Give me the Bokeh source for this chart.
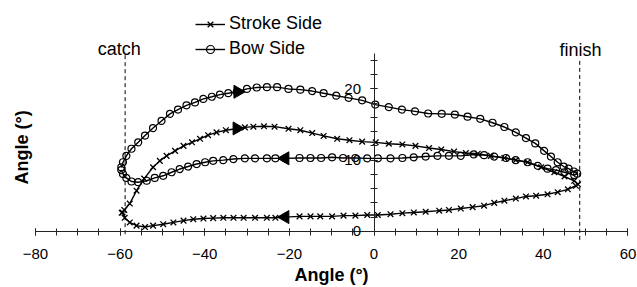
import math
from bokeh.plotting import figure
from bokeh.models import (LinearAxis, SingleIntervalTicker, Legend, LegendItem,
                          Label, Range1d)
from bokeh.core.properties import value
from bokeh.embed import file_html
from bokeh.resources import INLINE

# ---- data -------------------------------------------------------------
stroke_upper_x = [-59.6, -59.0, -57.7, -56.1, -54.3, -52.2, -50.6, -49.0, -47.0, -45.0,
                  -43.0, -41.1, -39.2, -37.2, -35.0, -32.6, -30.5, -28.5, -26.0, -23.5,
                  -20.2, -17.4, -14.6, -11.9, -8.7, -5.8, -2.8, 0.4, 3.5, 6.7, 9.8, 13.0,
                  15.9, 18.9, 21.7, 24.5, 27.6, 30.8, 33.5, 36.3, 39.5, 42.6, 45.0, 47.3, 48.2]
stroke_upper_y = [2.6, 3.0, 3.9, 5.7, 7.4, 9.0, 9.9, 10.6, 11.3, 12.0,
                  12.5, 13.0, 13.5, 13.9, 14.2, 14.4, 14.6, 14.7, 14.75, 14.7,
                  14.4, 14.2, 13.8, 13.4, 13.0, 12.8, 12.6, 12.5, 12.3, 12.2, 12.0, 11.7,
                  11.5, 11.2, 11.0, 10.9, 10.6, 10.3, 10.0, 9.7, 9.0, 8.3, 7.7, 7.1, 6.6]
stroke_lower_x = [47.7, 45.8, 43.4, 41.0, 38.3, 35.9, 33.5, 30.8, 28.4, 26.0, 23.3, 20.5,
                  17.7, 15.4, 12.2, 9.4, 6.7, 3.9, 0.9, -1.6, -4.4, -7.2, -9.9, -12.7,
                  -15.0, -17.6, -21.0, -23.3, -25.3, -28.1, -30.8, -33.2, -35.6, -38.0,
                  -40.3, -42.7, -45.0, -47.4, -49.8, -52.2, -54.1, -56.1, -57.7, -58.9, -59.4]
stroke_lower_y = [6.4, 5.9, 5.5, 5.2, 5.0, 4.9, 4.6, 4.3, 4.0, 3.6, 3.4, 3.2,
                  3.0, 2.9, 2.75, 2.65, 2.55, 2.4, 2.3, 2.3, 2.2, 2.2, 2.1, 2.1,
                  2.1, 2.1, 2.0, 1.9, 1.9, 1.9, 1.9, 1.9, 1.9, 1.85,
                  1.8, 1.7, 1.5, 1.25, 1.0, 0.8, 0.6, 0.8, 1.25, 1.9, 2.65]

bow_upper_x = [-59.7, -59.3, -58.5, -57.3, -55.7, -54.1, -52.2, -50.2, -48.2, -46.3,
               -44.3, -42.3, -40.3, -38.3, -36.4, -34.4, -32.4, -30.0, -27.7, -25.3,
               -22.9, -20.2, -17.4, -14.6, -11.9, -8.9, -6.0, -2.8, 0.3, 3.5, 6.6, 9.7,
               12.8, 16.0, 19.1, 22.1, 25.1, 28.0, 30.8, 33.5, 35.9, 38.1, 40.2, 41.8,
               43.4, 44.8, 46.0, 47.2, 48.0]
bow_upper_y = [9.0, 9.7, 10.6, 11.6, 12.5, 13.45, 14.5, 15.5, 16.5, 17.1,
               17.7, 18.1, 18.6, 18.9, 19.2, 19.4, 19.6, 20.0, 20.2, 20.25,
               20.25, 20.0, 19.9, 19.7, 19.4, 19.05, 18.75, 18.4, 17.8, 17.45, 17.1, 16.85,
               16.55, 16.5, 16.4, 16.1, 15.8, 15.25, 14.65, 13.9, 13.1, 12.35, 11.3, 10.5,
               9.7, 9.1, 8.8, 8.4, 8.1]
bow_lower_x = [47.3, 45.0, 43.0, 41.0, 38.7, 36.3, 33.5, 31.2, 28.4, 26.0, 23.6, 20.5,
               17.7, 15.0, 12.2, 9.4, 6.7, 3.9, 0.9, -1.6, -4.4, -7.3, -9.9, -12.5,
               -15.0, -17.6, -21.0, -23.3, -25.3, -28.1, -30.5, -33.2, -35.6, -38.0,
               -39.9, -41.9, -43.9, -45.9, -47.8, -49.8, -51.8, -53.7, -55.7, -57.3,
               -58.5, -59.3, -59.7]
bow_lower_y = [7.9, 8.3, 8.6, 8.8, 9.2, 9.7, 10.0, 10.3, 10.5, 10.7, 10.8, 10.6,
               10.6, 10.6, 10.5, 10.4, 10.3, 10.25, 10.25, 10.25, 10.3, 10.3, 10.4, 10.3,
               10.3, 10.3, 10.25, 10.25, 10.25, 10.25, 10.25, 10.15, 10.0, 9.9,
               9.7, 9.45, 9.1, 8.75, 8.3, 7.8, 7.5, 7.1, 6.9, 7.0,
               7.5, 8.05, 8.6]

# direction arrows on the loops (1 = right, -1 = left)
arrow_x = [-32.4, -32.2, -21.0, -21.0]
arrow_y = [14.45, 19.6, 10.25, 2.0]
arrow_dir = [1, 1, -1, -1]

# catch / finish markers
event_labels = ["catch", "finish"]
event_x = [-58.8, 48.6]
event_y0 = [-0.4, -1.2]
event_y1 = [25.2, 24.0]

series_names = ["Stroke Side", "Bow Side"]
axis_title = "Angle (°)"

FONT = "Liberation Sans"

# ---- figure -------------------------------------------------------------
p = figure(width=637, height=287, output_backend="svg", toolbar_location=None,
           x_axis_location=None, y_axis_location=None,
           x_range=Range1d(-88.24, 62.25), y_range=Range1d(-7.89, 32.42),
           min_border=0, outline_line_color=None)
p.xgrid.visible = False
p.ygrid.visible = False
p.background_fill_color = "white"

def style_axis(ax):
    ax.axis_line_color = "#222222"
    ax.axis_line_width = 1
    ax.major_tick_line_color = "#222222"
    ax.minor_tick_line_color = "#222222"
    ax.major_tick_in = 3
    ax.major_tick_out = 4
    ax.minor_tick_in = 3
    ax.minor_tick_out = 4
    ax.major_label_text_font = FONT
    ax.major_label_text_font_size = "15px"
    ax.major_label_text_color = "black"

xaxis = LinearAxis(fixed_location=0, bounds=(-80, 60),
                   ticker=SingleIntervalTicker(interval=20, num_minor_ticks=4))
style_axis(xaxis)
xaxis.major_label_standoff = 14
xaxis.axis_label = axis_title
xaxis.axis_label_text_font = FONT
xaxis.axis_label_text_font_size = "18px"
xaxis.axis_label_text_font_style = "bold"
xaxis.axis_label_text_color = "black"
xaxis.axis_label_standoff = 2
p.add_layout(xaxis, "below")

yaxis = LinearAxis(fixed_location=0, bounds=(0, 25),
                   ticker=SingleIntervalTicker(interval=10, num_minor_ticks=5))
style_axis(yaxis)
yaxis.major_label_standoff = 9
yaxis.major_label_orientation = "horizontal"
p.add_layout(yaxis, "left")

# catch / finish dashed lines and labels
p.segment(x0=event_x, y0=event_y0, x1=event_x, y1=event_y1,
          line_color="black", line_width=1, line_dash="4 3")
p.text(x=[-60.2, 48.8], y=[25.65, 25.5], text=event_labels,
       text_align="center", text_baseline="alphabetic",
       text_font=value(FONT), text_font_size="18px", text_color="black")

# loops
sx = stroke_upper_x + stroke_lower_x
sy = stroke_upper_y + stroke_lower_y
bx = bow_upper_x + bow_lower_x
by = bow_upper_y + bow_lower_y

rs_l = p.line(sx, sy, line_color="black", line_width=1.4)
rs_m = p.scatter(sx, sy, marker="x", size=8, line_color="black", line_width=1.3)
rb_l = p.line(bx, by, line_color="black", line_width=1.4)
rb_m = p.scatter(bx, by, marker="circle", size=7, line_color="black",
                 fill_color="white", fill_alpha=0.0, line_width=1.2)

# arrows
arrow_angle = [-math.pi / 2 if d > 0 else math.pi / 2 for d in arrow_dir]
p.scatter(arrow_x, arrow_y, marker="triangle", angle=arrow_angle, size=13,
          fill_color="black", line_color="black")

# y axis title
p.add_layout(Label(x=-83.16, y=11.8, text=axis_title, angle=math.pi / 2,
                   text_align="center", text_baseline="middle",
                   text_font=FONT, text_font_size="18px", text_font_style="bold",
                   text_color="black"))

legend = Legend(items=[LegendItem(label=series_names[0], renderers=[rs_l, rs_m]),
                       LegendItem(label=series_names[1], renderers=[rb_l, rb_m])],
                location=(195, 228), padding=0, margin=0, spacing=4,
                glyph_width=30, glyph_height=20, label_height=20, label_standoff=4,
                label_text_font=FONT, label_text_font_size="18px",
                label_text_color="black",
                border_line_color=None, background_fill_alpha=0)
p.add_layout(legend)

open("out.html", "w").write(file_html(p, INLINE))
